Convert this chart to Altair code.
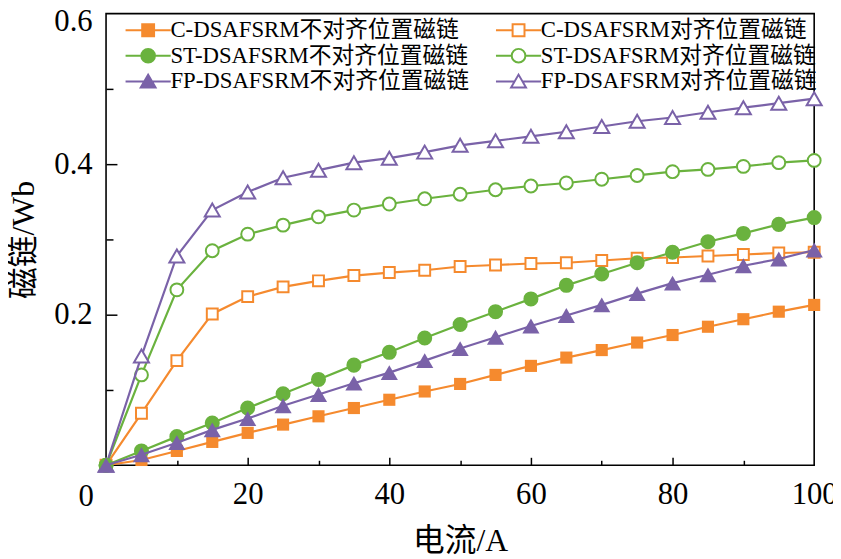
import altair as alt
import pandas as pd

FONT = "Liberation Serif, Noto Sans CJK SC"

currents = [0, 5, 10, 15, 20, 25, 30, 35, 40, 45, 50, 55, 60, 65, 70, 75, 80, 85, 90, 95, 100]

c_unaligned = [0, 0.007, 0.019, 0.031, 0.043, 0.054, 0.065, 0.076, 0.087, 0.098, 0.108,
               0.120, 0.132, 0.143, 0.153, 0.163, 0.173, 0.184, 0.194, 0.204, 0.213]
c_aligned = [0, 0.069, 0.139, 0.201, 0.224, 0.237, 0.245, 0.252, 0.256, 0.259, 0.264,
             0.266, 0.268, 0.269, 0.272, 0.275, 0.276, 0.278, 0.280, 0.282, 0.283]
st_unaligned = [0, 0.019, 0.038, 0.056, 0.076, 0.095, 0.114, 0.133, 0.150, 0.169, 0.187,
                0.204, 0.221, 0.239, 0.254, 0.269, 0.283, 0.297, 0.308, 0.320, 0.329]
st_aligned = [0, 0.120, 0.233, 0.285, 0.307, 0.319, 0.330, 0.339, 0.347, 0.354, 0.360,
              0.366, 0.371, 0.375, 0.380, 0.385, 0.390, 0.393, 0.397, 0.402, 0.405]
fp_unaligned = [0, 0.014, 0.030, 0.047, 0.062, 0.079, 0.094, 0.109, 0.123, 0.139, 0.155,
                0.170, 0.185, 0.199, 0.213, 0.228, 0.242, 0.253, 0.265, 0.274, 0.286]
fp_aligned = [0, 0.145, 0.278, 0.339, 0.363, 0.382, 0.392, 0.402, 0.408, 0.416, 0.425,
              0.431, 0.437, 0.443, 0.450, 0.457, 0.462, 0.469, 0.475, 0.481, 0.487]

series_names = ["C-DSAFSRM不对齐位置磁链", "C-DSAFSRM对齐位置磁链",
                "ST-DSAFSRM不对齐位置磁链", "ST-DSAFSRM对齐位置磁链",
                "FP-DSAFSRM不对齐位置磁链", "FP-DSAFSRM对齐位置磁链"]
series_values = [c_unaligned, c_aligned, st_unaligned, st_aligned, fp_unaligned, fp_aligned]
series_colors = ["#F58A2E", "#F58A2E", "#6AB23E", "#6AB23E", "#7A62A8", "#7A62A8"]
series_fills = ["#F58A2E", "white", "#6AB23E", "white", "#7A62A8", "white"]
series_shapes = ["square", "square", "circle", "circle", "triangle-up", "triangle-up"]
series_sizes = [150, 121, 230, 169, 300, 230]
series_open = [False, True, False, True, False, True]

legend_paths = [
    "M-3.8,0H-1M1,0H3.8M-1,-1H1V1H-1Z",
    "M-3.8,0H-1M1,0H3.8M-1,-1H1V1H-1Z",
    "M-3.8,0H-1.15M1.15,0H3.8M-1.15,0A1.15,1.15,0,1,1,1.15,0A1.15,1.15,0,1,1,-1.15,0Z",
    "M-3.8,0H-1.15M1.15,0H3.8M-1.15,0A1.15,1.15,0,1,1,1.15,0A1.15,1.15,0,1,1,-1.15,0Z",
    "M-3.8,0H-0.62M0.62,0H3.8M0,-1.15L1.25,1L-1.25,1Z",
    "M-3.8,0H-0.62M0.62,0H3.8M0,-1.15L1.25,1L-1.25,1Z",
]

rows = []
for name, vals in zip(series_names, series_values):
    for x, y in zip(currents, vals):
        rows.append({"series": name, "current": x, "flux": y})
df = pd.DataFrame(rows)

xscale = alt.Scale(domain=[0, 100], nice=False, zero=False)
yscale = alt.Scale(domain=[0, 0.6], nice=False, zero=False)

x_main = alt.Axis(orient="bottom", values=[0, 20, 40, 60, 80, 100],
                  labelExpr="datum.value == 0 ? '' : datum.label",
                  ticks=False, tickSize=0, domain=False, grid=False,
                  labelFont=FONT, labelFontSize=31, labelColor="black",
                  labelPadding=15, labelOverlap=False, labelFlush=False,
                  title="电流/A", titleFont=FONT, titleFontSize=32,
                  titleFontWeight="normal", titleColor="black", titlePadding=16)
y_main = alt.Axis(orient="left", values=[0.2, 0.4, 0.6], format=".1f",
                  ticks=False, tickSize=0, domain=False, grid=False,
                  labelFont=FONT, labelFontSize=31, labelColor="black",
                  labelPadding=14, labelOverlap=False, labelFlush=False,
                  labelOffset={"condition": {"test": "datum.value > 0.55", "value": 8},
                               "value": 0},
                  title="磁链/Wb", titleFont=FONT, titleFontSize=32,
                  titleFontWeight="normal", titleColor="black", titlePadding=14)
x_major = alt.Axis(orient="bottom", values=[20, 40, 60, 80], offset=-8, tickSize=8,
                   tickWidth=1.5, tickColor="black", labels=False, domain=False,
                   grid=False, title=None)
y_major = alt.Axis(orient="left", values=[0.2, 0.4], offset=-11, tickSize=11,
                   tickWidth=1.5, tickColor="black", labels=False, domain=False,
                   grid=False, title=None)
x_minor = alt.Axis(orient="bottom", values=[10, 30, 50, 70, 90], offset=-5, tickSize=5,
                   tickWidth=1.5, tickColor="black", labels=False, domain=False,
                   grid=False, title=None)
y_minor = alt.Axis(orient="left", values=[0.1, 0.3, 0.5], offset=-7, tickSize=7,
                   tickWidth=1.5, tickColor="black", labels=False, domain=False,
                   grid=False, title=None)

axis_sets = {0: (x_main, y_main), 1: (x_major, y_major), 2: (x_minor, y_minor)}

draw_order = [1, 3, 5, 0, 2, 4]
layers = []
k = 0
for i in draw_order:
    name = series_names[i]
    sub = alt.Chart(df).transform_filter(alt.datum.series == name)
    for kind in ("line", "point"):
        ax = axis_sets.get(k, (None, None))
        k += 1
        enc = dict(
            x=alt.X("current:Q", scale=xscale, axis=ax[0]),
            y=alt.Y("flux:Q", scale=yscale, axis=ax[1]),
        )
        if kind == "line":
            m = sub.mark_line(color=series_colors[i], strokeWidth=2.2)
        else:
            if series_open[i]:
                m = sub.mark_point(shape=series_shapes[i], size=series_sizes[i],
                                   filled=False, fill="white", stroke=series_colors[i],
                                   strokeWidth=2, opacity=1)
            else:
                m = sub.mark_point(shape=series_shapes[i], size=series_sizes[i],
                                   filled=True, color=series_colors[i], opacity=1,
                                   strokeWidth=0)
        layers.append(m.encode(**enc))

# origin label "0"
zero_df = pd.DataFrame({"current": [0], "flux": [0], "t": ["0"]})
zero_label = alt.Chart(zero_df).mark_text(
    font=FONT, fontSize=31, color="black", dx=-20, dy=32,
    align="center", baseline="middle"
).encode(
    x=alt.X("current:Q", scale=xscale, axis=None),
    y=alt.Y("flux:Q", scale=yscale, axis=None),
    text="t:N",
)
layers.append(zero_label)

leg = alt.Legend(orient="none", legendX=31, legendY=5, columns=2, direction="horizontal",
                 columnPadding=22, rowPadding=2, title=None, labelFont=FONT,
                 labelFontSize=23, labelColor="black", labelLimit=600, labelOffset=11,
                 symbolSize=144, symbolStrokeWidth=2, padding=0)
legend_layer = alt.Chart(df).transform_filter("false").mark_point(
    filled=False, opacity=1, strokeWidth=2
).encode(
    color=alt.Color("series:N", scale=alt.Scale(domain=series_names, range=series_colors),
                    legend=leg, sort=series_names),
    fill=alt.Fill("series:N", scale=alt.Scale(domain=series_names, range=series_fills),
                  legend=leg, sort=series_names),
    shape=alt.Shape("series:N", scale=alt.Scale(domain=series_names, range=legend_paths),
                    legend=leg, sort=series_names),
)
layers.append(legend_layer)

chart = alt.layer(*layers).resolve_axis(
    x="independent", y="independent"
).properties(
    width=715, height=456,
    padding={"left": 99, "top": 3, "right": 19, "bottom": 92},
    autosize="none",
    background="white",
).configure_view(stroke="black", strokeWidth=1.6)

chart.save("out.html", embed_options={"renderer": "svg", "actions": False})
